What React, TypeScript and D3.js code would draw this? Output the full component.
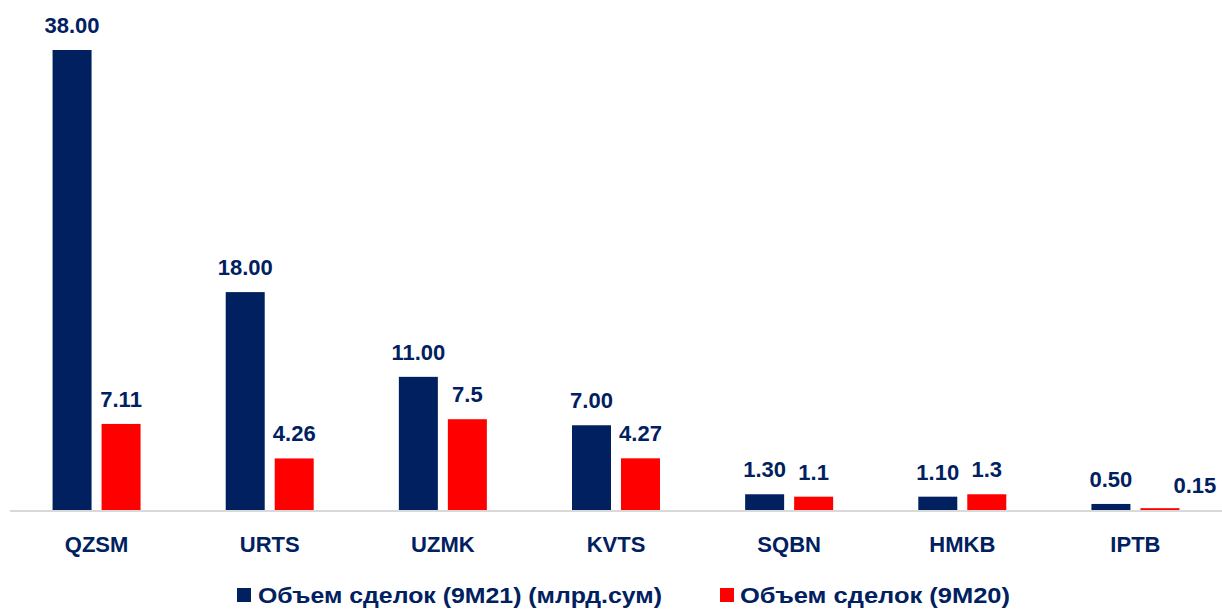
import React from "react";
import * as d3 from "d3";

const categories = ["QZSM", "URTS", "UZMK", "KVTS", "SQBN", "HMKB", "IPTB"];
const values21 = [38.0, 18.0, 11.0, 7.0, 1.3, 1.1, 0.5];
const labels21 = ["38.00", "18.00", "11.00", "7.00", "1.30", "1.10", "0.50"];
const values20 = [7.11, 4.26, 7.5, 4.27, 1.1, 1.3, 0.15];
const labels20 = ["7.11", "4.26", "7.5", "4.27", "1.1", "1.3", "0.15"];
const seriesNames = ["Объем сделок (9M21) (млрд.сум)", "Объем сделок (9M20)"];

const W = 1222;
const H = 609;
const NAVY = "#002060";
const RED = "#FF0000";
const FONT = "'Liberation Sans', Arial, sans-serif";

export default function App() {
  const left = 10;
  const right = 1222;
  const baseline = 510;
  const x = d3.scaleBand<string>().domain(categories).range([left, right]).paddingInner(0).paddingOuter(0);
  const y = d3.scaleLinear().domain([0, 38]).range([baseline, 50]);
  const barW = 39;
  const gap = 10;
  const series = [
    { vals: values21, labels: labels21, color: NAVY, off: -(gap / 2 + barW) },
    { vals: values20, labels: labels20, color: RED, off: gap / 2 },
  ];
  // special label nudges (series index, category index) -> [dx, dy]
  const nudge = (s: number, i: number): [number, number] => (s === 1 && i === 6 ? [35, 2] : [0, 0]);

  return (
    <svg width={W} height={H} style={{ position: "absolute", left: 0, top: 0, background: "#fff" }}>
      <line x1={left} x2={right} y1={baseline + 1} y2={baseline + 1} stroke="#d9d9d9" strokeWidth={2} />
      {series.map((s, si) =>
        categories.map((c, i) => {
          const cx = (x(c) as number) + x.bandwidth() / 2;
          const bx = cx + s.off;
          const top = y(s.vals[i]);
          const [dx, dy] = nudge(si, i);
          return (
            <g key={`${si}-${i}`}>
              <rect x={bx} y={top} width={barW} height={baseline - top} fill={s.color} />
              <text
                x={bx + barW / 2 + dx}
                y={top - 17 + dy}
                textAnchor="middle"
                fontFamily={FONT}
                fontWeight={700}
                fontSize={22}
                fill={NAVY}
              >
                {s.labels[i]}
              </text>
            </g>
          );
        })
      )}
      {categories.map((c) => (
        <text
          key={c}
          x={(x(c) as number) + x.bandwidth() / 2}
          y={552}
          textAnchor="middle"
          fontFamily={FONT}
          fontWeight={700}
          fontSize={22}
          fill={NAVY}
        >
          {c}
        </text>
      ))}
      <g>
        <rect x={237} y={588} width={14} height={14} fill={NAVY} />
        <text
          x={258}
          y={603}
          fontFamily={FONT}
          fontWeight={700}
          fontSize={22}
          fill={NAVY}
          textLength={404}
          lengthAdjust="spacingAndGlyphs"
        >
          {seriesNames[0]}
        </text>
        <rect x={720} y={588} width={14} height={14} fill={RED} />
        <text
          x={740}
          y={603}
          fontFamily={FONT}
          fontWeight={700}
          fontSize={22}
          fill={NAVY}
          textLength={270}
          lengthAdjust="spacingAndGlyphs"
        >
          {seriesNames[1]}
        </text>
      </g>
    </svg>
  );
}
